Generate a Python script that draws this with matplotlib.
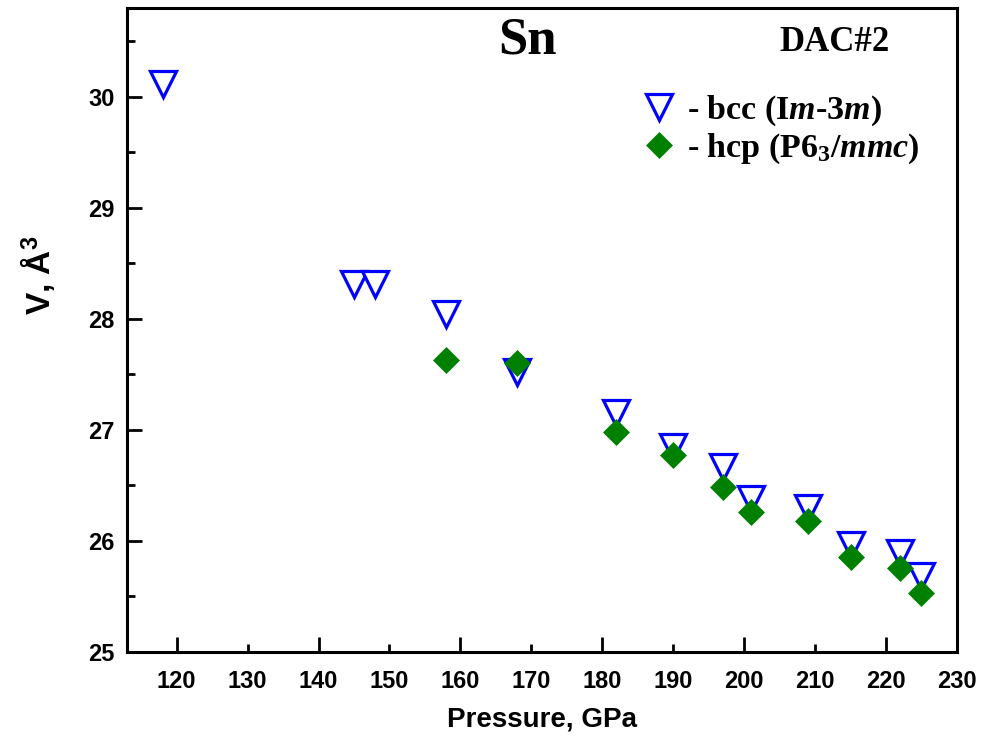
import matplotlib
matplotlib.use("Agg")
import matplotlib.pyplot as plt
from matplotlib.ticker import FixedLocator, FuncFormatter

# ---------------------- data ----------------------

bcc_pressure = [118, 145, 148, 158, 168, 182, 190, 197, 201, 209, 215, 222, 225]
bcc_volume = [30.12, 28.31, 28.31, 28.04, 27.52, 27.15, 26.85, 26.67, 26.38, 26.30, 25.96, 25.89, 25.68]

hcp_pressure = [158, 168, 182, 190, 197, 201, 209, 215, 222, 225]
hcp_volume = [27.63, 27.60, 26.98, 26.77, 26.49, 26.26, 26.18, 25.86, 25.76, 25.53]

x_major = [120, 140, 160, 180, 200, 220]
x_minor = [130, 150, 170, 190, 210, 230]
y_major = [25, 26, 27, 28, 29, 30]
y_minor = [25.5, 26.5, 27.5, 28.5, 29.5, 30.5]

# ---------------------- style ----------------------

plt.rcParams["font.family"] = ["Liberation Sans", "DejaVu Sans"]
plt.rcParams["font.weight"] = "bold"
plt.rcParams["mathtext.fontset"] = "custom"
plt.rcParams["mathtext.rm"] = "Liberation Serif:bold"
plt.rcParams["mathtext.it"] = "Liberation Serif:italic:bold"
plt.rcParams["mathtext.bf"] = "Liberation Serif:bold"
plt.rcParams["mathtext.sf"] = "Liberation Sans:bold"

fig = plt.figure(figsize=(9.81, 7.42), dpi=100)
ax = fig.add_axes([0.1295, 0.1213, 0.8460, 0.8679])

ax.plot(bcc_pressure, bcc_volume, linestyle="none", marker="v", markersize=19,
        markerfacecolor="white", markeredgecolor="#0000ff", markeredgewidth=2.3,
        label=r"- bcc (I$\mathit{m}$-3$\mathit{m}$)", zorder=3)
ax.plot(hcp_pressure, hcp_volume, linestyle="none", marker="D", markersize=13.5,
        markerfacecolor="#008000", markeredgecolor="#008000", markeredgewidth=0.5,
        label=r"- hcp (P6$_{\mathrm{3}}$/$\mathit{mmc}$)", zorder=4)

ax.set_xlim(113, 230)
ax.set_ylim(25, 30.8)

ax.xaxis.set_major_locator(FixedLocator(x_major))
ax.xaxis.set_minor_locator(FixedLocator(x_minor))
ax.yaxis.set_major_locator(FixedLocator(y_major))
ax.yaxis.set_minor_locator(FixedLocator(y_minor))
ax.xaxis.set_minor_formatter(FuncFormatter(lambda v, p: f"{v:.0f}"))

for side in ["left", "bottom", "top", "right"]:
    ax.spines[side].set_linewidth(2.2)

ax.tick_params(axis="x", which="both", direction="in", labelsize=17, pad=13,
               width=2, top=False, right=False)
ax.tick_params(axis="x", which="major", length=11)
ax.tick_params(axis="x", which="minor", length=6)
ax.tick_params(axis="y", which="major", direction="in", length=11, width=2,
               labelsize=17, pad=9)
ax.tick_params(axis="y", which="minor", direction="in", length=6, width=2)
for lab in ax.get_xticklabels(which="both") + ax.get_yticklabels():
    lab.set_fontweight("bold")

ax.set_xlabel("Pressure, GPa", fontsize=20, fontweight="bold", labelpad=10)
ax.set_ylabel(r"V, Å$^{\mathsf{3}}$", fontsize=24, fontweight="bold")
ax.yaxis.set_label_coords(-0.084, 0.585)

ax.text(0.483, 0.950, "Sn", transform=ax.transAxes, ha="center", va="center",
        family="Liberation Serif", fontsize=38, fontweight="bold")
ax.text(0.853, 0.946, "DAC#2", transform=ax.transAxes, ha="center", va="center",
        family="Liberation Serif", fontsize=25, fontweight="bold")

ax.legend(loc="center left", bbox_to_anchor=(0.616, 0.811), frameon=False,
          prop={"family": "Liberation Serif", "weight": "bold", "size": 24.5},
          handletextpad=0.22, labelspacing=0.1, borderaxespad=0, borderpad=0,
          handlelength=1.2)

fig.savefig("out.png", dpi=100)
